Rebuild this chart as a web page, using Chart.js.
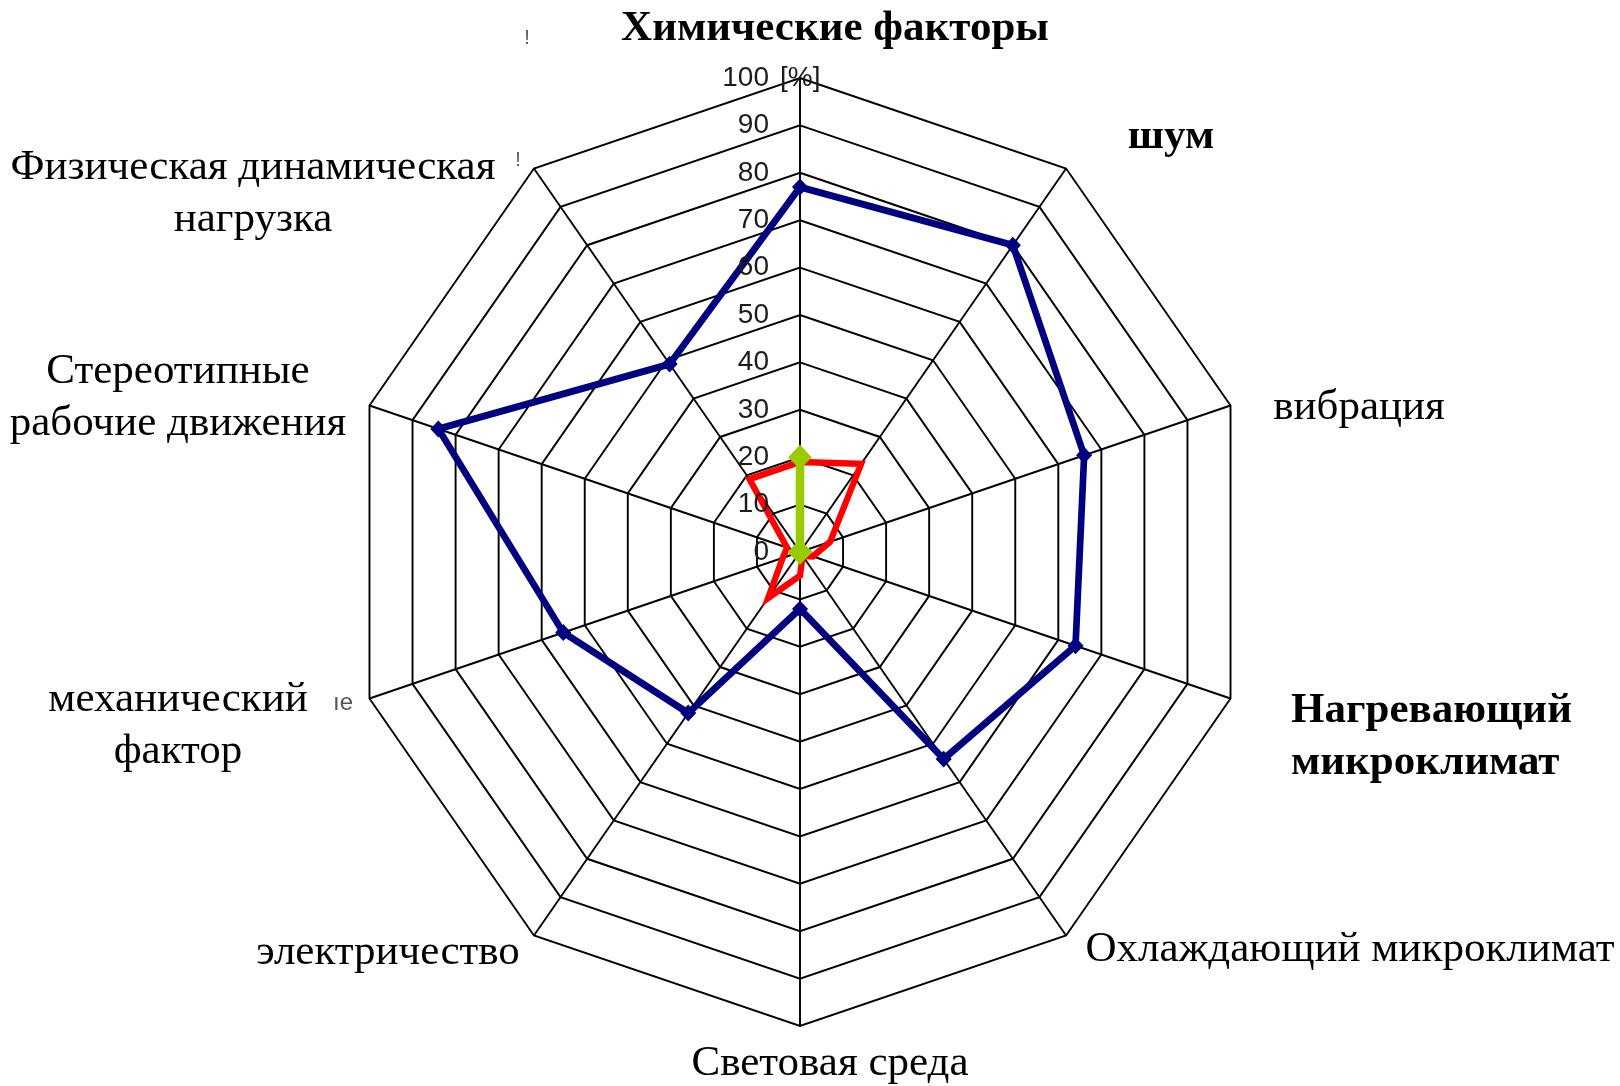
<!DOCTYPE html>
<html>
<head>
<meta charset="utf-8">
<script src="https://cdn.jsdelivr.net/npm/chart.js@4.4.1/dist/chart.umd.min.js"></script>
<style>
  html, body { margin: 0; padding: 0; background: #fff; }
  canvas { display: block; }
</style>
</head>
<body>
<canvas id="myChart" width="1620" height="1086"></canvas>
<script>
// categories (clockwise from the top)
const categories = [
  ['Химические факторы'],
  ['шум'],
  ['вибрация'],
  ['Нагревающий', 'микроклимат'],
  ['Охлаждающий микроклимат'],
  ['Световая среда'],
  ['электричество'],
  ['механический', 'фактор'],
  ['Стереотипные', 'рабочие движения'],
  ['Физическая динамическая', 'нагрузка']
];

// series values, %
const blueValues  = [77, 80, 66, 64, 54, 12, 42, 55, 84, 49];
const redValues   = [19, 23, 7, 3, 1, 5, 12, 4, 3, 19];
const greenValues = [20, 0, 0, 0, 0, 0, 0, 0, 0, 0];

// tick labels on the vertical axis
const tickValues = [0, 10, 20, 30, 40, 50, 60, 70, 80, 90, 100];
const tickUnit = '[%]';

// where each axis label is written (x, y of first line, alignment, bold)
const labelLayout = [
  { x: 835,  y: 29,  align: 'center', bold: true },
  { x: 1171, y: 137, align: 'center', bold: true },
  { x: 1359, y: 408, align: 'center', bold: false },
  { x: 1291, y: 711, align: 'left',   bold: true },
  { x: 1350, y: 950, align: 'center', bold: false },
  { x: 830,  y: 1064, align: 'center', bold: false },
  { x: 388,  y: 953, align: 'center', bold: false },
  { x: 178,  y: 700, align: 'center', bold: false },
  { x: 178,  y: 372, align: 'center', bold: false },
  { x: 253,  y: 168, align: 'center', bold: false }
];

const labelFont = 43;
const lineGap = 51.7;
const squishX = 0.955; // the scanned web is a bit narrower than tall

// narrow the web (grid + lines) around its centre
const squishPlugin = {
  id: 'squish',
  beforeDraw(chart) {
    const c = chart.ctx;
    const cx = chart.scales.r.xCenter;
    c.save();
    c.translate(cx, 0);
    c.scale(squishX, 1);
    c.translate(-cx, 0);
  },
  afterDatasetsDraw(chart) {
    chart.ctx.restore();
  }
};

// axis labels + tick labels drawn after the chart
const textPlugin = {
  id: 'textPlugin',
  afterDraw(chart) {
    const c = chart.ctx;
    const scale = chart.scales.r;
    c.save();
    c.fillStyle = '#000';
    c.textBaseline = 'middle';
    categories.forEach((lines, i) => {
      const l = labelLayout[i];
      c.font = (l.bold ? 'bold ' : '') + labelFont + 'px "Liberation Serif", "Times New Roman", serif';
      c.textAlign = l.align;
      lines.forEach((t, k) => c.fillText(t, l.x, l.y + k * lineGap));
    });

    // ticks on the top axis
    c.font = '28px "Liberation Sans", Arial, sans-serif';
    c.fillStyle = '#1c1c1c';
    tickValues.forEach(v => {
      const p = scale.getPointPositionForValue(0, v);
      const right = p.x - 31;
      c.textAlign = 'right';
      c.fillText(String(v), right, p.y);
      if (v === 100) {
        c.textAlign = 'left';
        c.fillText(tickUnit, p.x - 20, p.y);
      }
    });

    // small stray marks seen in the scan
    c.fillStyle = '#555';
    c.font = '20px "Liberation Sans", sans-serif';
    c.textAlign = 'center';
    c.fillText('!', 527, 38);
    c.fillText('!', 518, 160);
    c.font = '24px "Liberation Sans", sans-serif';
    c.fillText('ıe', 343, 703);
    c.restore();
  }
};

const ctx = document.querySelector('#myChart');

new Chart(ctx, {
  type: 'radar',
  data: {
    labels: categories,
    datasets: [
      {
        label: 'blue',
        data: blueValues,
        borderColor: '#000080',
        backgroundColor: 'rgba(0,0,0,0)',
        borderWidth: 7,
        borderJoinStyle: 'miter',
        pointStyle: 'rectRot',
        pointRadius: 3.5,
        pointBackgroundColor: '#000080',
        pointBorderColor: '#000080',
        fill: false,
        order: 1
      },
      {
        label: 'green',
        data: greenValues,
        borderColor: '#99cc00',
        backgroundColor: 'rgba(0,0,0,0)',
        borderWidth: 9,
        pointStyle: 'rectRot',
        pointRadius: 6,
        pointBackgroundColor: '#99cc00',
        pointBorderColor: '#99cc00',
        fill: false,
        order: 2
      },
      {
        label: 'red',
        data: redValues,
        borderColor: '#ff0000',
        backgroundColor: 'rgba(0,0,0,0)',
        borderWidth: 6.5,
        borderJoinStyle: 'miter',
        pointRadius: 0,
        fill: false,
        order: 3
      }
    ]
  },
  options: {
    responsive: false,
    animation: false,
    devicePixelRatio: 1,
    layout: { padding: { left: 326, right: 346, top: 78, bottom: 60 } },
    plugins: { legend: { display: false }, tooltip: { enabled: false } },
    elements: { line: { tension: 0 } },
    scales: {
      r: {
        min: 0,
        max: 100,
        startAngle: 0,
        ticks: { stepSize: 10, display: false },
        grid: { color: '#000', lineWidth: 2 },
        angleLines: { color: '#000', lineWidth: 2 },
        pointLabels: { display: false }
      }
    }
  },
  plugins: [squishPlugin, textPlugin]
});
</script>
</body>
</html>
